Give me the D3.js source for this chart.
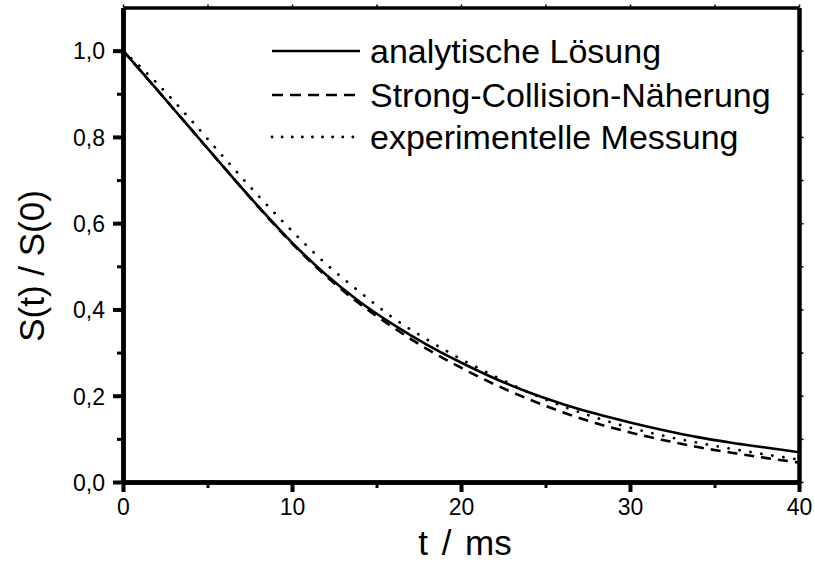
<!DOCTYPE html>
<html><head><meta charset="utf-8">
<script src="https://cdn.jsdelivr.net/npm/d3@7"></script>
<style>body{margin:0;background:#fff}svg{display:block}text{font-family:"Liberation Sans",Arial,sans-serif;fill:#000}
.ax path.domain{stroke:#000;stroke-width:4.5px}
.ax .tick line{stroke:#000;stroke-width:4px}
.ax.minor .tick line{stroke-width:3px}
.ax.thin .tick line{stroke-width:1.5px}
.ax.thin path.domain{stroke-width:3.5px}
</style>
</head><body><svg id="c" width="815" height="563"></svg>
<script>
const times = [0,2,4,6,8,10,12,14,16,18,20,22,24,26,28,30,32,34,36,38,40];
const analytic = [1.000,0.910,0.819,0.728,0.639,0.555,0.481,0.418,0.365,0.318,0.277,0.240,0.208,0.181,0.158,0.138,0.120,0.104,0.091,0.080,0.069];
const strongCollision = [1.000,0.910,0.819,0.728,0.638,0.553,0.478,0.413,0.358,0.308,0.265,0.226,0.192,0.162,0.136,0.115,0.097,0.081,0.068,0.056,0.045];
const experiment = [1.000,0.925,0.840,0.751,0.664,0.582,0.506,0.441,0.380,0.330,0.285,0.245,0.208,0.176,0.149,0.126,0.107,0.091,0.077,0.064,0.052];
const xTicks = [0,10,20,30,40];
const yTicks = [0,0.2,0.4,0.6,0.8,1.0];
const legendLabels = ["analytische Lösung","Strong-Collision-Näherung","experimentelle Messung"];

const svg = d3.select("#c");
const x = d3.scaleLinear().domain([0,40]).range([123,799]);
const y = d3.scaleLinear().domain([0,1.1]).range([482,7.5]);
const fmt = d => d3.format(".1f")(d).replace(".",",");

const series = [
  {vals: analytic, dash: null, legDash: null, w: 2.6, cap: "butt"},
  {vals: strongCollision, dash: "10,7", legDash: "11,7", w: 2.6, cap: "butt"},
  {vals: experiment, dash: "0.1,11", legDash: "0.1,10", w: 2.8, cap: "round"}
];
const line = d3.line().x((d,i)=>x(times[i])).y(d=>y(d)).curve(d3.curveMonotoneX);
const plot = svg.append("g");
series.forEach(s=>{
  plot.append("path").attr("d", line(s.vals)).attr("fill","none").attr("stroke","#000")
    .style("stroke-width", s.w+"px").attr("stroke-linecap", s.cap)
    .attr("stroke-dasharray", s.dash);
});

// axes
const xMinor = d3.range(5,40,10);
const yMinor = [0.1,0.3,0.5,0.7,0.9];
const mk = (cls) => svg.append("g").attr("class","ax "+cls);
const gT = mk("thin").attr("transform",`translate(0,${y(1.1)})`)
  .call(d3.axisTop(x).tickValues(xTicks.concat(xMinor)).tickSize(3).tickSizeOuter(0).tickFormat(""));
const gR = mk("").attr("transform",`translate(${x(40)},0)`)
  .call(d3.axisRight(y).tickValues(yTicks.concat(yMinor)).tickSize(4.5).tickSizeOuter(0).tickFormat(""));
gR.selectAll(".tick line").style("stroke-width","1.5px");
const gB = mk("").attr("transform",`translate(0,${y(0)})`)
  .call(d3.axisBottom(x).tickValues(xTicks).tickSize(10).tickSizeOuter(0).tickPadding(7).tickFormat(d3.format("d")));
const gBm = mk("minor").attr("transform",`translate(0,${y(0)})`)
  .call(d3.axisBottom(x).tickValues(xMinor).tickSize(6).tickSizeOuter(0).tickFormat(""));
const gL = mk("").attr("transform",`translate(${x(0)},0)`)
  .call(d3.axisLeft(y).tickValues(yTicks).tickSize(10).tickSizeOuter(0).tickPadding(8).tickFormat(fmt));
const gLm = mk("minor").attr("transform",`translate(${x(0)},0)`)
  .call(d3.axisLeft(y).tickValues(yMinor).tickSize(6).tickSizeOuter(0).tickFormat(""));
[gB,gBm,gL,gLm,gT,gR].forEach(g=>{
  g.selectAll("text").style("font-size","23px").style("font-family","Liberation Sans, Arial, sans-serif").style("fill","#000");
});
gL.selectAll("text").attr("dy","0.36em");

// titles
svg.append("text").attr("x",465).attr("y",555).attr("text-anchor","middle")
  .style("font-size","35px").style("word-spacing","4px").text("t / ms");
svg.append("text").attr("transform",`translate(44,266) rotate(-90)`).attr("text-anchor","middle")
  .style("font-size","35px").text("S(t) / S(0)");

// legend
const lg = svg.append("g");
const rowY = [51, 95, 137];
legendLabels.forEach((lab,i)=>{
  const yy = rowY[i];
  const s = series[i];
  lg.append("line").attr("x1",272).attr("x2",360).attr("y1",yy).attr("y2",yy)
    .attr("stroke","#000").style("stroke-width",s.w+"px").attr("stroke-linecap",s.cap).attr("stroke-dasharray", s.legDash);
  lg.append("text").attr("x",370).attr("y",yy).attr("dy","0.35em").style("font-size","34px").text(lab);
});
</script></body></html>
